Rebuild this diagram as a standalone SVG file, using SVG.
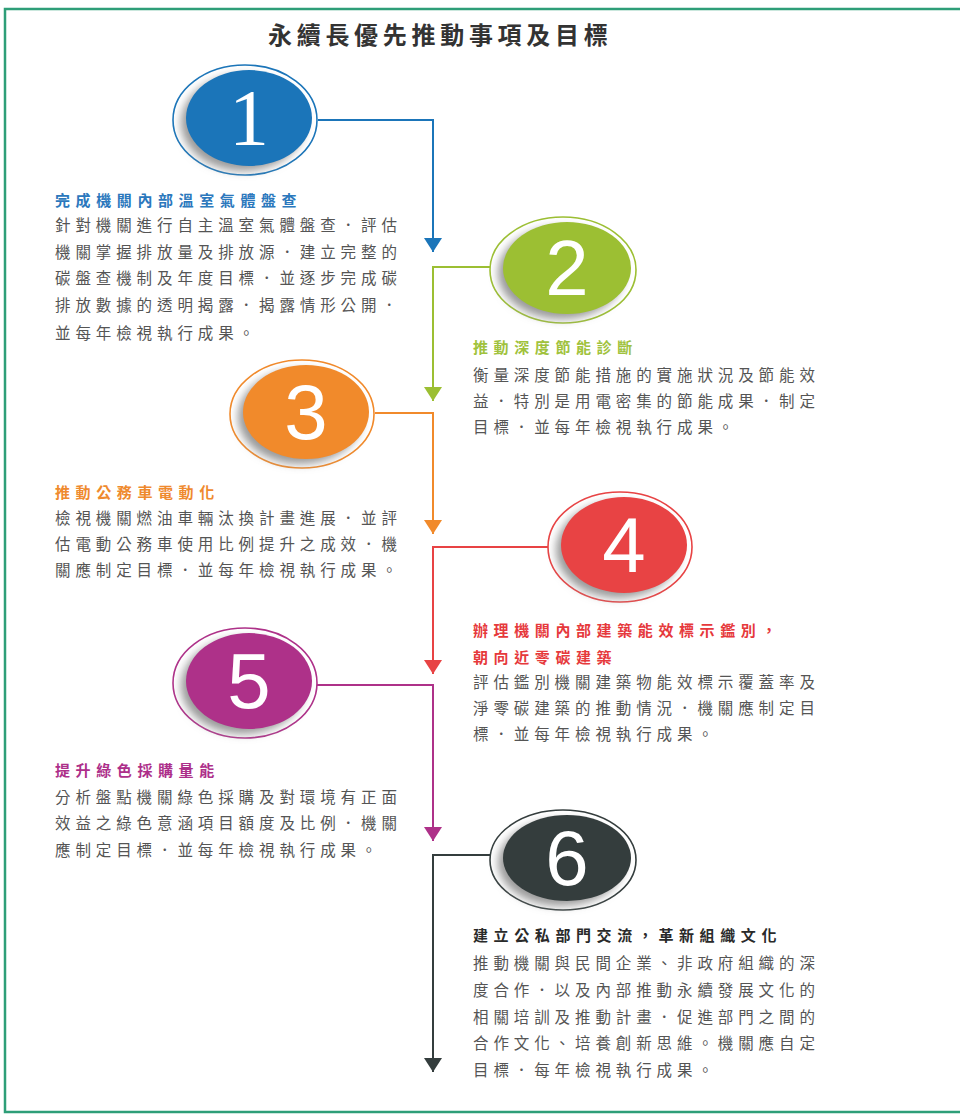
<svg xmlns="http://www.w3.org/2000/svg" width="960" height="1114" viewBox="0 0 960 1114">
<style>
.frame{fill:#fff;stroke:#2e9e78;stroke-width:2.5}
.main{font-family:"Noto Sans CJK TC","Noto Sans CJK SC",sans-serif;font-size:24px;font-weight:bold;fill:#333;letter-spacing:4.7px}
.head{font-family:"Noto Sans CJK TC","Noto Sans CJK SC",sans-serif;font-size:15px;font-weight:bold;letter-spacing:5.6px}
.body{font-family:"Noto Sans CJK TC","Noto Sans CJK SC",sans-serif;font-size:15.5px;fill:#555;letter-spacing:4.9px}
.num{font-family:"Liberation Sans",Arial,sans-serif;font-size:78px;fill:#fff;text-anchor:middle}
.ring{fill:#fff;stroke-width:1.6}
.shadow{fill:#9a9a9a;filter:url(#blur)}
.conn{fill:none;stroke-width:2}
</style>
<defs>
<filter id="blur" x="-20%" y="-20%" width="140%" height="140%"><feGaussianBlur stdDeviation="4"/></filter>
<marker id="a1" markerUnits="userSpaceOnUse" markerWidth="16" markerHeight="20" refX="14" refY="9" orient="auto" viewBox="0 0 16 20"><path d="M0,0 L14,9 L0,18 z" fill="#1b75b9"/></marker>
<marker id="a2" markerUnits="userSpaceOnUse" markerWidth="16" markerHeight="20" refX="14" refY="9" orient="auto" viewBox="0 0 16 20"><path d="M0,0 L14,9 L0,18 z" fill="#9cbf33"/></marker>
<marker id="a3" markerUnits="userSpaceOnUse" markerWidth="16" markerHeight="20" refX="14" refY="9" orient="auto" viewBox="0 0 16 20"><path d="M0,0 L14,9 L0,18 z" fill="#f18a2b"/></marker>
<marker id="a4" markerUnits="userSpaceOnUse" markerWidth="16" markerHeight="20" refX="14" refY="9" orient="auto" viewBox="0 0 16 20"><path d="M0,0 L14,9 L0,18 z" fill="#e84344"/></marker>
<marker id="a5" markerUnits="userSpaceOnUse" markerWidth="16" markerHeight="20" refX="14" refY="9" orient="auto" viewBox="0 0 16 20"><path d="M0,0 L14,9 L0,18 z" fill="#ae3189"/></marker>
<marker id="a6" markerUnits="userSpaceOnUse" markerWidth="16" markerHeight="20" refX="14" refY="9" orient="auto" viewBox="0 0 16 20"><path d="M0,0 L14,9 L0,18 z" fill="#343d3d"/></marker>
</defs>
<rect class="frame" x="5" y="9" width="970" height="1103"/>
<text class="main" x="268" y="44">永續長優先推動事項及目標</text>

<g id="connectors">
<path class="conn" stroke="#1b75b9" d="M318,120 H433 V252" marker-end="url(#a1)"/>
<path class="conn" stroke="#9cbf33" d="M490,267 H433 V401" marker-end="url(#a2)"/>
<path class="conn" stroke="#f18a2b" d="M375,413 H433 V534" marker-end="url(#a3)"/>
<path class="conn" stroke="#e84344" d="M548,547 H433 V674" marker-end="url(#a4)"/>
<path class="conn" stroke="#ae3189" d="M317,685 H433 V841" marker-end="url(#a5)"/>
<path class="conn" stroke="#343d3d" d="M490,855 H433 V1072" marker-end="url(#a6)"/>
</g>

<g id="node1">
<ellipse class="ring" stroke="#1b75b9" cx="245" cy="120" rx="72" ry="55"/>
<ellipse class="shadow" cx="243" cy="123" rx="62" ry="48"/>
<ellipse fill="#1b75b9" cx="249" cy="118" rx="63" ry="48"/>
<text class="num" x="249" y="145" style="font-family:'Liberation Serif',serif;font-size:80px">1</text>
<text class="head" x="55" y="206" fill="#2b78bd">完成機關內部溫室氣體盤查</text>
<text class="body" x="55" y="231">針對機關進行自主溫室氣體盤查．評估</text>
<text class="body" x="55" y="258">機關掌握排放量及排放源．建立完整的</text>
<text class="body" x="55" y="284">碳盤查機制及年度目標．並逐步完成碳</text>
<text class="body" x="55" y="311">排放數據的透明揭露．揭露情形公開．</text>
<text class="body" x="55" y="339">並每年檢視執行成果。</text>
</g>

<g id="node2">
<ellipse class="ring" stroke="#9cbf33" cx="563" cy="270" rx="73" ry="53"/>
<ellipse class="shadow" cx="561" cy="273" rx="63" ry="46"/>
<ellipse fill="#9cbf33" cx="567" cy="268" rx="64" ry="46"/>
<text class="num" x="567" y="295">2</text>
<text class="head" x="473" y="353" fill="#a0c23c">推動深度節能診斷</text>
<text class="body" x="473" y="381">衡量深度節能措施的實施狀況及節能效</text>
<text class="body" x="473" y="407">益．特別是用電密集的節能成果．制定</text>
<text class="body" x="473" y="433">目標．並每年檢視執行成果。</text>
</g>

<g id="node3">
<ellipse class="ring" stroke="#f18a2b" cx="302" cy="414" rx="72" ry="54"/>
<ellipse class="shadow" cx="300" cy="417" rx="62" ry="47"/>
<ellipse fill="#f18a2b" cx="306" cy="412" rx="63" ry="47"/>
<text class="num" x="306" y="439">3</text>
<text class="head" x="55" y="498" fill="#ef8a2e">推動公務車電動化</text>
<text class="body" x="55" y="524">檢視機關燃油車輛汰換計畫進展．並評</text>
<text class="body" x="55" y="550">估電動公務車使用比例提升之成效．機</text>
<text class="body" x="55" y="576">關應制定目標．並每年檢視執行成果。</text>
</g>

<g id="node4">
<ellipse class="ring" stroke="#e84344" cx="620" cy="547" rx="72" ry="55"/>
<ellipse class="shadow" cx="618" cy="550" rx="62" ry="48"/>
<ellipse fill="#e84344" cx="624" cy="545" rx="63" ry="48"/>
<text class="num" x="624" y="572">4</text>
<text class="head" x="473" y="636" fill="#e6393c">辦理機關內部建築能效標示鑑別，</text>
<text class="head" x="473" y="663" fill="#e6393c">朝向近零碳建築</text>
<text class="body" x="473" y="688">評估鑑別機關建築物能效標示覆蓋率及</text>
<text class="body" x="473" y="714">淨零碳建築的推動情況．機關應制定目</text>
<text class="body" x="473" y="740">標．並每年檢視執行成果。</text>
</g>

<g id="node5">
<ellipse class="ring" stroke="#ae3189" cx="245" cy="683" rx="72" ry="55"/>
<ellipse class="shadow" cx="243" cy="686" rx="62" ry="48"/>
<ellipse fill="#ae3189" cx="249" cy="681" rx="63" ry="48"/>
<text class="num" x="249" y="708">5</text>
<text class="head" x="55" y="776" fill="#ad2f8a">提升綠色採購量能</text>
<text class="body" x="55" y="803">分析盤點機關綠色採購及對環境有正面</text>
<text class="body" x="55" y="829">效益之綠色意涵項目額度及比例．機關</text>
<text class="body" x="55" y="856">應制定目標．並每年檢視執行成果。</text>
</g>

<g id="node6">
<ellipse class="ring" stroke="#343d3d" cx="563" cy="860" rx="73" ry="50"/>
<ellipse class="shadow" cx="561" cy="863" rx="63" ry="43"/>
<ellipse fill="#343d3d" cx="567" cy="858" rx="64" ry="43"/>
<text class="num" x="567" y="885">6</text>
<text class="head" x="473" y="941" fill="#2a2a2a">建立公私部門交流，革新組織文化</text>
<text class="body" x="473" y="969">推動機關與民間企業、非政府組織的深</text>
<text class="body" x="473" y="996">度合作．以及內部推動永續發展文化的</text>
<text class="body" x="473" y="1023">相關培訓及推動計畫．促進部門之間的</text>
<text class="body" x="473" y="1049">合作文化、培養創新思維。機關應自定</text>
<text class="body" x="473" y="1076">目標．每年檢視執行成果。</text>
</g>
</svg>
